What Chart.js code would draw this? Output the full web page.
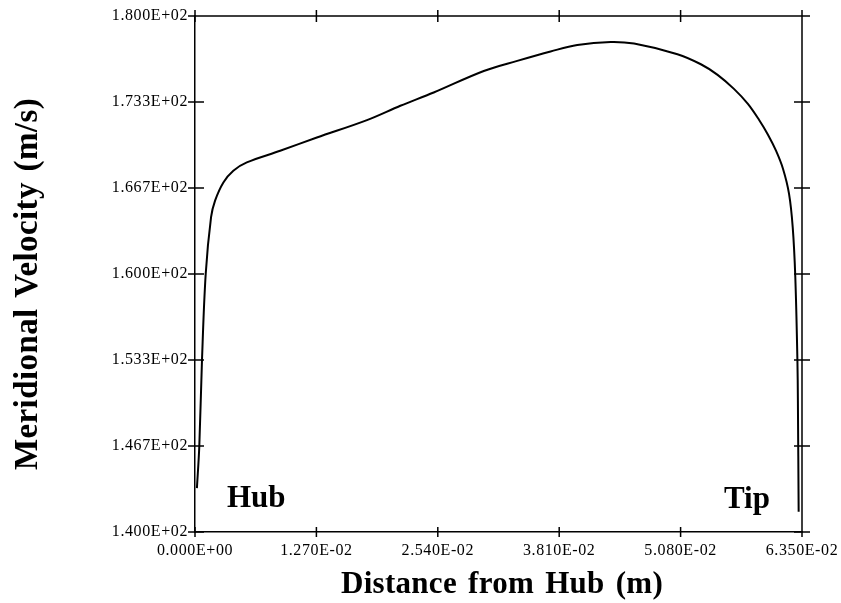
<!DOCTYPE html>
<html>
<head>
<meta charset="utf-8">
<script src="https://cdn.jsdelivr.net/npm/chart.js@4.4.1/dist/chart.umd.min.js"></script>
<style>
html,body{margin:0;padding:0;background:#fff;}
canvas{display:block;}
</style>
</head>
<body>
<canvas id="c" width="841" height="603"></canvas>
<script>
// ---- data ----
const distance = [0.0002, 0.00045, 0.00073, 0.00112, 0.00168, 0.0021, 0.00297, 0.00401, 0.00542, 0.00891,
  0.01275, 0.01799, 0.02148, 0.02497, 0.03021, 0.03371, 0.0372, 0.03999, 0.04349, 0.04593,
  0.05047, 0.05292, 0.05467, 0.05638, 0.05784, 0.059, 0.05994, 0.06078, 0.06151, 0.06214,
  0.06253, 0.0628, 0.06302, 0.06307, 0.06315];
const velocity = [143.4, 146.65, 153.3, 160.0, 164.4, 165.69, 167.1, 168.01, 168.65, 169.55,
  170.58, 171.93, 173.04, 174.07, 175.74, 176.52, 177.25, 177.76, 177.99, 177.86,
  177.04, 176.26, 175.44, 174.35, 173.19, 171.96, 170.8, 169.56, 168.16, 166.23,
  163.62, 159.75, 153.31, 150.21, 141.57];
const xTickValues = [0, 0.0127, 0.0254, 0.0381, 0.0508, 0.0635];
const xTickLabels = ['0.000E+00', '1.270E-02', '2.540E-02', '3.810E-02', '5.080E-02', '6.350E-02'];
const yTickValues = [140, 146.667, 153.333, 160, 166.667, 173.333, 180];
const yTickLabels = ['1.400E+02', '1.467E+02', '1.533E+02', '1.600E+02', '1.667E+02', '1.733E+02', '1.800E+02'];
const xTitle = 'Distance from Hub (m)';
const yTitle = 'Meridional Velocity (m/s)';
const endLabels = ['Hub', 'Tip'];

const points = distance.map((d, i) => ({x: d, y: velocity[i]}));
const SERIF = '"Liberation Serif", "Times New Roman", serif';

const framePlugin = {
  id: 'frame',
  beforeDraw(chart) {
    chart.ctx.letterSpacing = '0.6px';
  },
  afterDraw(chart) {
    const ctx = chart.ctx;
    const a = chart.chartArea;
    const xs = chart.scales.x, ys = chart.scales.y;
    ctx.save();
    ctx.strokeStyle = '#000';
    ctx.lineWidth = 1.5;
    ctx.beginPath();
    ctx.moveTo(a.left, a.top); ctx.lineTo(a.right, a.top);
    ctx.moveTo(a.right, a.top); ctx.lineTo(a.right, a.bottom);
    xTickValues.forEach(v => {
      const px = xs.getPixelForValue(v);
      ctx.moveTo(px, a.bottom - 5); ctx.lineTo(px, a.bottom + 5);
      ctx.moveTo(px, a.top - 6); ctx.lineTo(px, a.top + 6);
    });
    yTickValues.forEach(v => {
      const py = ys.getPixelForValue(v);
      ctx.moveTo(a.left - 7, py); ctx.lineTo(a.left + 9, py);
      ctx.moveTo(a.right - 8, py); ctx.lineTo(a.right + 8, py);
    });
    ctx.stroke();

    ctx.fillStyle = '#000';
    ctx.letterSpacing = '0px';
    ctx.font = 'bold 31px ' + SERIF;
    ctx.textBaseline = 'alphabetic';
    ctx.textAlign = 'left';
    ctx.fillText(endLabels[0], a.left + 32, a.bottom - 25);
    ctx.fillText(endLabels[1], a.right - 78, a.bottom - 24);

    ctx.font = 'bold 31px ' + SERIF;
    ctx.letterSpacing = '0.3px';
    ctx.wordSpacing = '3px';
    ctx.textAlign = 'center';
    ctx.fillText(xTitle, 502, 593);

    ctx.translate(37, 284);
    ctx.rotate(-Math.PI / 2);
    ctx.font = 'bold 33px ' + SERIF;
    ctx.letterSpacing = '0.4px';
    ctx.wordSpacing = '2px';
    ctx.fillText(yTitle, 0, 0);
    ctx.restore();
  }
};

new Chart(document.getElementById('c'), {
  type: 'line',
  data: {
    datasets: [{
      data: points,
      borderColor: '#000',
      borderWidth: 2,
      pointRadius: 0,
      fill: false,
      tension: 0.35
    }]
  },
  options: {
    responsive: false,
    animation: false,
    devicePixelRatio: 1,
    layout: {padding: {top: 16, right: 39, left: 0, bottom: 0}},
    plugins: {legend: {display: false}, tooltip: {enabled: false}},
    scales: {
      x: {
        type: 'linear', min: 0, max: 0.0635,
        afterFit(s) { s.height = 71; s.paddingLeft = 0; s.paddingRight = 0; },
        afterBuildTicks(s) { s.ticks = xTickValues.map(v => ({value: v})); },
        ticks: {
          callback: (v, i) => xTickLabels[i],
          font: {family: SERIF, size: 16}, color: '#000',
          padding: 9, maxRotation: 0, autoSkip: false
        },
        grid: {display: false, drawTicks: false},
        border: {display: true, color: '#000', width: 1.5}
      },
      y: {
        type: 'linear', min: 140, max: 180,
        afterFit(s) { s.width = 195; s.paddingTop = 0; s.paddingBottom = 0; },
        afterBuildTicks(s) { s.ticks = yTickValues.map(v => ({value: v})); },
        ticks: {
          callback: (v, i) => yTickLabels[i],
          font: {family: SERIF, size: 16}, color: '#000',
          padding: 7, autoSkip: false
        },
        grid: {display: false, drawTicks: false},
        border: {display: true, color: '#000', width: 1.5}
      }
    }
  },
  plugins: [framePlugin]
});
</script>
</body>
</html>
